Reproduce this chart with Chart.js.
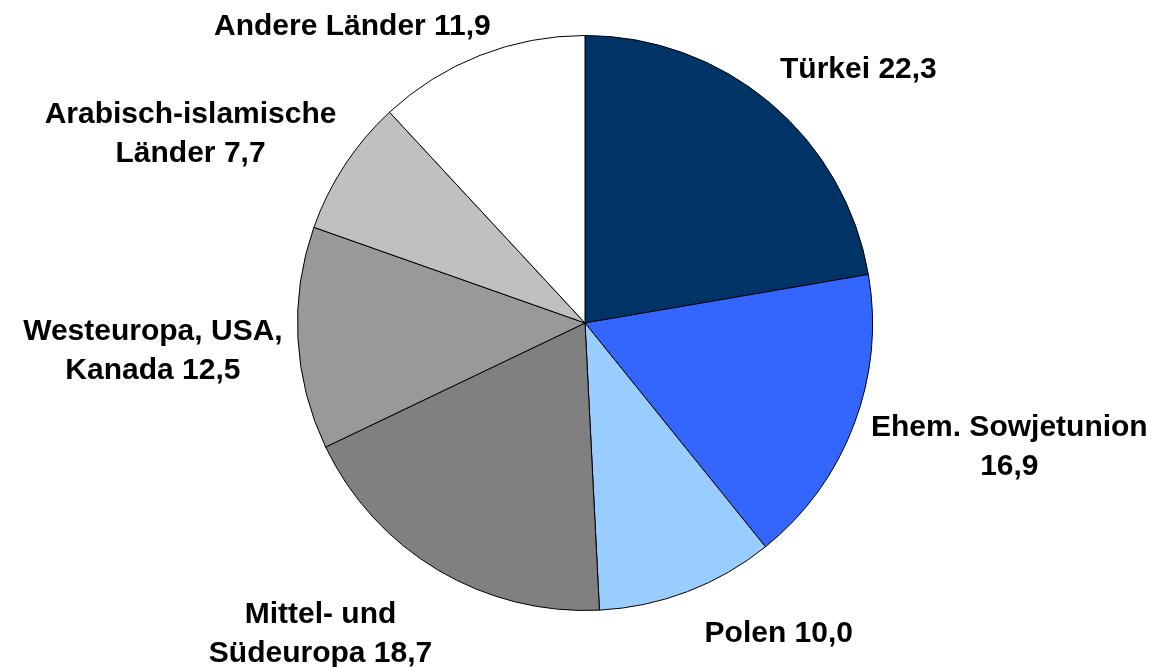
<!DOCTYPE html>
<html>
<head>
<meta charset="utf-8">
<script src="https://cdn.jsdelivr.net/npm/chart.js@4/dist/chart.umd.min.js"></script>
<style>
html,body{margin:0;padding:0;background:#fff;}
#wrap{position:relative;width:1157px;height:667px;}
</style>
</head>
<body>
<div id="wrap"><canvas id="c" width="1157" height="667"></canvas></div>
<script>
const categories = ["Türkei", "Ehem. Sowjetunion", "Polen", "Mittel- und Südeuropa", "Westeuropa, USA, Kanada", "Arabisch-islamische Länder", "Andere Länder"];
const values = [22.3, 16.9, 10.0, 18.7, 12.5, 7.7, 11.9];
const labelLines = [
  ["Türkei 22,3"],
  ["Ehem. Sowjetunion", "16,9"],
  ["Polen 10,0"],
  ["Mittel- und", "Südeuropa 18,7"],
  ["Westeuropa, USA,", "Kanada 12,5"],
  ["Arabisch-islamische", "Länder 7,7"],
  ["Andere Länder 11,9"]
];
const colors = ["#003366", "#3366FF", "#99CCFF", "#808080", "#999999", "#C0C0C0", "#FFFFFF"];

// label anchor (text centre x, first baseline y) relative to pie centre, in units of radius
const labelAnchors = [
  [0.951, -0.851],
  [1.476, 0.392],
  [0.674, 1.108],
  [-0.920, 1.042],
  [-1.503, 0.059],
  [-1.372, -0.694],
  [-0.809, -1.003]
];

const labelPlugin = {
  id: 'pieLabels',
  afterDatasetsDraw(chart) {
    const ctx = chart.ctx;
    const meta = chart.getDatasetMeta(0);
    const arc = meta.data[0];
    const cx = arc.x, cy = arc.y, r = arc.outerRadius;
    ctx.save();
    ctx.font = 'bold 30px "Liberation Sans", Arial, sans-serif';
    ctx.fillStyle = '#000';
    ctx.textAlign = 'center';
    ctx.textBaseline = 'alphabetic';
    labelLines.forEach((lines, i) => {
      const x = cx + labelAnchors[i][0] * r;
      const y = cy + labelAnchors[i][1] * r;
      lines.forEach((t, j) => ctx.fillText(t, x, y + j * 39));
    });
    ctx.restore();
  }
};

new Chart(document.getElementById('c'), {
  type: 'pie',
  data: {
    labels: categories,
    datasets: [{
      data: values,
      backgroundColor: colors,
      borderColor: '#000000',
      borderWidth: 1,
      borderAlign: 'center'
    }]
  },
  options: {
    responsive: false,
    animation: false,
    layout: { padding: { top: 35, bottom: 56, left: 297, right: 284 } },
    plugins: { legend: { display: false }, tooltip: { enabled: false } }
  },
  plugins: [labelPlugin]
});
</script>
</body>
</html>
